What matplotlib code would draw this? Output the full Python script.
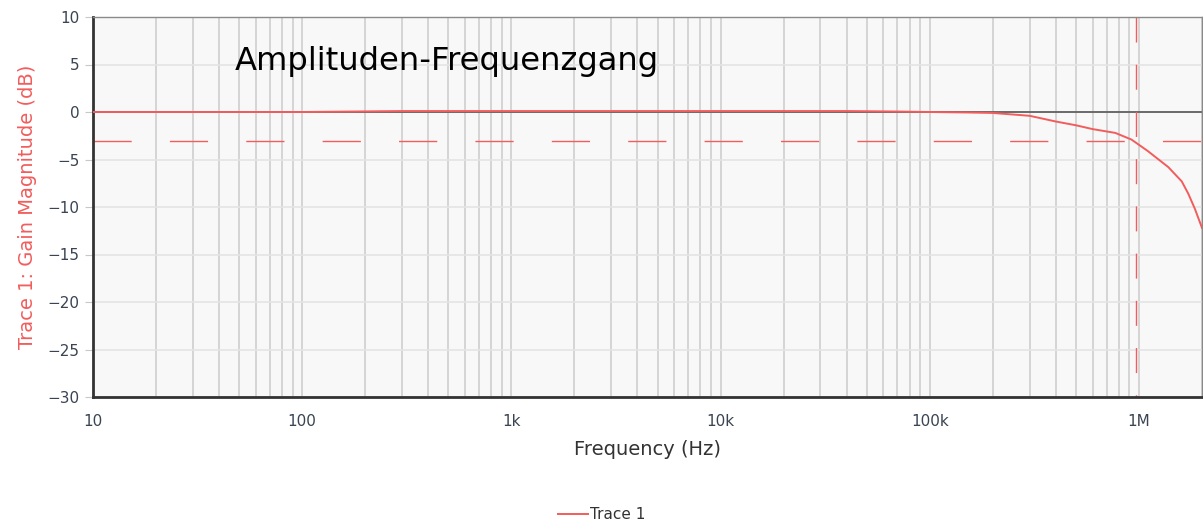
import numpy as np
import matplotlib.pyplot as plt
from matplotlib.ticker import FixedLocator, NullFormatter

# Werte
freq = [10, 100, 300, 1e3, 1e4, 4e4, 7e4, 1e5, 1.5e5, 2e5, 3e5, 4e5,
        5e5, 6e5, 7.7e5, 9.2e5, 1.1e6, 1.38e6, 1.6e6, 1.72e6, 1.85e6, 2e6]
gain = [0.0, 0.0, 0.1, 0.1, 0.1, 0.1, 0.05, 0.0, -0.05, -0.1, -0.4, -1.0,
        -1.4, -1.8, -2.2, -2.9, -4.1, -5.8, -7.3, -8.6, -10.2, -12.2]
cutoff_db = -3
cutoff_f = 9.65e5

xticks = [10, 100, 1e3, 1e4, 1e5, 1e6]
xlabels = ['10', '100', '1k', '10k', '100k', '1M']
yticks = [-30, -25, -20, -15, -10, -5, 0, 5, 10]

red = '#f25c5c'
tick_col = '#3a4452'

fig = plt.figure(figsize=(12.03, 5.2), dpi=100)
ax = fig.add_axes([93 / 1203, 1 - 397 / 520, 1 - 94 / 1203, 380 / 520])
ax.set_facecolor('#f8f8f8')

ax.set_xscale('log')
ax.set_xlim(10, 2e6)
ax.set_ylim(-30, 10)

minor = [m * 10 ** e for e in range(1, 7) for m in range(2, 10) if m * 10 ** e <= 2e6]
ax.xaxis.set_major_locator(FixedLocator(xticks))
ax.xaxis.set_minor_locator(FixedLocator(minor))
ax.xaxis.set_minor_formatter(NullFormatter())
ax.set_xticks(xticks, xlabels)
ax.set_yticks(yticks)

ax.grid(True, axis='x', which='both', color='#cfcfcf', lw=1.2)
ax.grid(True, axis='y', which='major', color='#e4e4e4', lw=1.2)
ax.tick_params(axis='x', which='both', length=0, pad=12, labelsize=11, labelcolor=tick_col)
ax.tick_params(axis='y', length=6, color='#c8c8c8', labelsize=11, labelcolor=tick_col)

for s in ['left', 'bottom']:
    ax.spines[s].set_color('#333333')
    ax.spines[s].set_linewidth(2)
for s in ['top', 'right']:
    ax.spines[s].set_color('#8a8a8a')
    ax.spines[s].set_linewidth(1)

ax.axhline(0, color='#555555', lw=1.2, zorder=2)
ax.axhline(cutoff_db, color=red, lw=1, dashes=(27.5, 27.5), zorder=2)
# senkrechte Linie von oben nach unten, damit das Strichmuster oben beginnt
ax.plot([cutoff_f, cutoff_f], [10, -30], color=red, lw=1, dashes=(18, 16), zorder=2)

ax.plot(freq, gain, color=red, lw=1.4, label='Trace 1', zorder=3)

ax.text(0.128, 0.8605, 'Amplituden-Frequenzgang', transform=ax.transAxes,
        fontsize=23.2, family='DejaVu Sans', color='black', va='baseline')

ax.set_xlabel('Frequency (Hz)', fontsize=14, color='#333333', labelpad=8)
ax.set_ylabel('Trace 1: Gain Magnitude (dB)', fontsize=14, color=red, labelpad=8)

fig.legend(loc='lower center', bbox_to_anchor=(0.5, -0.03), frameon=False,
           fontsize=11, handlelength=2, handletextpad=0.1, labelcolor='#333333')

fig.savefig('out.png', dpi=100)
